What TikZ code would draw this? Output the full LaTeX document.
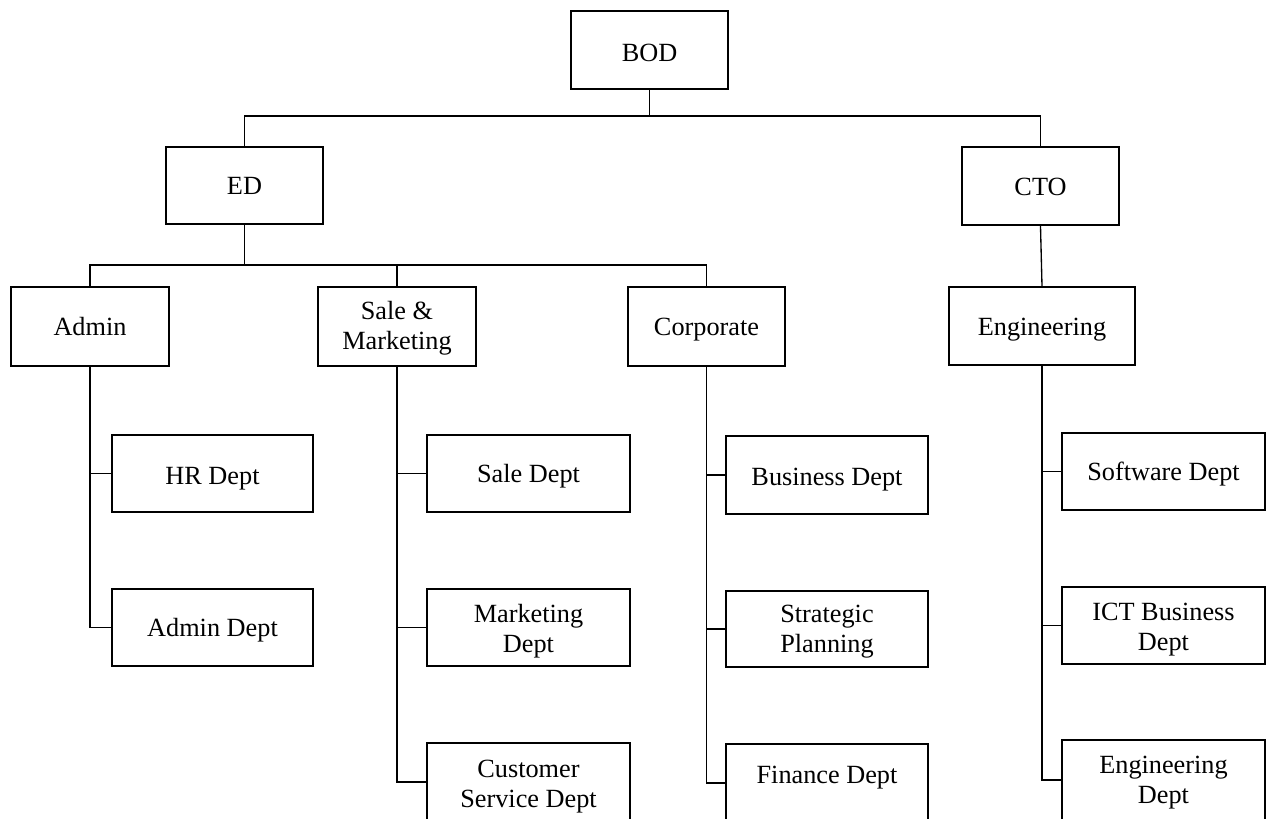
\documentclass[tikz,border=0pt]{standalone}
\usepackage{fontspec}
\setmainfont{Liberation Serif}
\newcommand{\bt}[2]{\raisebox{#1}[0pt][0pt]{\begin{tabular}[t]{@{}c@{}}#2\end{tabular}}}
\begin{document}
\begin{tikzpicture}[x=0.75pt,y=-0.75pt,
  box/.style n args={2}{draw, line width=1.8pt, minimum width=#1*0.75pt, minimum height=#2*0.75pt, inner sep=0pt, font=\fontsize{19.7pt}{22.5pt}\selectfont},
  conn/.style={line width=1pt}]
\useasboundingbox (0,0) rectangle (1268,818);
\clip (0,0) rectangle (1268,818);
\fill[white] (0,0) rectangle (1268,818);

\node[box={157}{78}] (BOD) at (649.5,50) {\bt{-8.25pt}{BOD}};
\node[box={157}{77}] (ED) at (244.5,185.5) {\bt{-7.1pt}{ED}};
\node[box={157}{78}] (CTO) at (1040.5,186) {\bt{-6.75pt}{CTO}};
\node[box={158}{79}] (Admin) at (90,326.5) {\bt{-6.9pt}{Admin}};
\node[box={158}{79}] (SM) at (397,326.5) {\bt{4.9pt}{Sale \&\\Marketing}};
\node[box={157}{79}] (Corp) at (706.5,326.5) {\bt{-6.75pt}{Corporate}};
\node[box={186}{78}] (Eng) at (1042,326) {\bt{-6.75pt}{Engineering}};
\node[box={201}{77}] (HR) at (212.5,473.5) {\bt{-7.9pt}{HR Dept}};
\node[box={201}{77}] (AdmD) at (212.5,627.5) {\bt{-7.1pt}{Admin Dept}};
\node[box={203}{77}] (Sale) at (528.5,473.5) {\bt{-7.1pt}{Sale Dept}};
\node[box={203}{77}] (Mkt) at (528.5,627.5) {\bt{3.4pt}{Marketing\\Dept}};
\node[box={203}{78}] (Cust) at (528.5,782) {\bt{3.75pt}{Customer\\Service Dept}};
\node[box={202}{78}] (Bus) at (827,475) {\bt{-8pt}{Business Dept}};
\node[box={202}{76}] (Strat) at (827,629) {\bt{5.25pt}{Strategic\\Planning}};
\node[box={202}{78}] (Fin) at (827,783) {\bt{0pt}{Finance Dept}};
\node[box={203}{77}] (Soft) at (1163.5,471.5) {\bt{-6.4pt}{Software Dept}};
\node[box={203}{77}] (ICT) at (1163.5,625.5) {\bt{3.4pt}{ICT Business\\Dept}};
\node[box={203}{80}] (EngD) at (1163.5,780) {\bt{5.25pt}{Engineering\\Dept}};

\coordinate (j1) at (649.5,116);
\coordinate (j2) at (244.5,265);
\draw[conn] (BOD.south) -- (j1);
\draw[conn] (ED.north) |- (j1) -| (CTO.north);
\draw[conn] (ED.south) -- (j2);
\draw[conn] (Admin.north) |- (j2) -| (Corp.north);
\draw[conn] (SM.north) -- (SM.north |- j2);
\draw[conn] (CTO.south) -- (Eng.north);

\draw[conn] (Admin.south) |- (AdmD.west);
\draw[conn] (HR.west) -- (HR.west -| Admin.south);

\draw[conn] (SM.south) |- (Cust.west);
\draw[conn] (Sale.west) -- (Sale.west -| SM.south);
\draw[conn] (Mkt.west) -- (Mkt.west -| SM.south);

\draw[conn] (Corp.south) |- (Fin.west);
\draw[conn] (Bus.west) -- (Bus.west -| Corp.south);
\draw[conn] (Strat.west) -- (Strat.west -| Corp.south);

\draw[conn] (Eng.south) |- (EngD.west);
\draw[conn] (Soft.west) -- (Soft.west -| Eng.south);
\draw[conn] (ICT.west) -- (ICT.west -| Eng.south);
\end{tikzpicture}
\end{document}
